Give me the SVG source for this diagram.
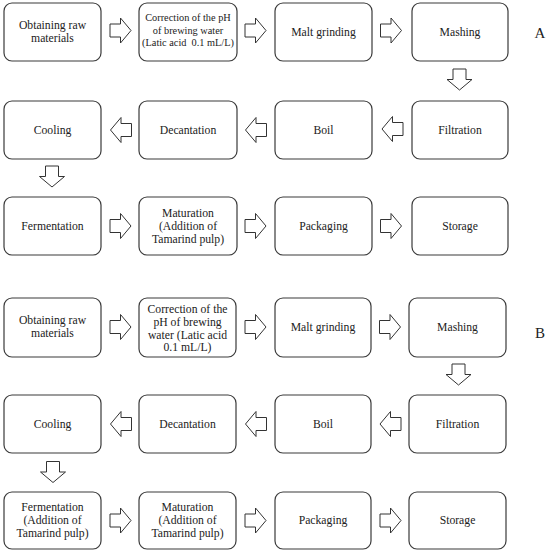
<svg xmlns="http://www.w3.org/2000/svg" xmlns:xlink="http://www.w3.org/1999/xlink" width="550" height="553" viewBox="0 0 550 553">
<style>
.box{fill:#fff;stroke:#3a3a3a;stroke-width:1.2}
.t{font-family:"Liberation Serif","Times New Roman",serif;font-size:11.7px;fill:#222;text-anchor:middle}
.s{font-size:10.3px}
.lbl{font-family:"Liberation Serif","Times New Roman",serif;font-size:15px;fill:#222;text-anchor:middle}
.arr{fill:#fff;stroke:#333;stroke-width:1}
</style>
<defs>
<path id="ar" class="arr" d="M-10.5,-6.5 H0 V-12.5 L10.5,0 L0,12.5 V6.5 H-10.5 Z"/>
</defs>
<rect width="550" height="553" fill="#fff"/>
<g id="partA">
<g id="a1"><rect class="box" x="4" y="3" width="97" height="58" rx="8"/><text class="t" x="52.5" y="29">Obtaining raw</text><text class="t" x="52.5" y="42">materials</text></g>
<g id="a2"><rect class="box" x="139" y="3" width="98" height="58" rx="8"/><text class="t s" x="188" y="21">Correction of the pH</text><text class="t s" x="188" y="33.5">of brewing water</text><text class="t s" x="188" y="46">(Latic acid&#160; 0.1 mL/L)</text></g>
<g id="a3"><rect class="box" x="275" y="3" width="97" height="58" rx="8"/><text class="t" x="323.5" y="36">Malt grinding</text></g>
<g id="a4"><rect class="box" x="412" y="3" width="96" height="58" rx="8"/><text class="t" x="460" y="36">Mashing</text></g>
<g id="a5"><rect class="box" x="412" y="101" width="96" height="58" rx="8"/><text class="t" x="460" y="134">Filtration</text></g>
<g id="a6"><rect class="box" x="275" y="101" width="97" height="58" rx="8"/><text class="t" x="323.5" y="134">Boil</text></g>
<g id="a7"><rect class="box" x="139" y="101" width="98" height="58" rx="8"/><text class="t" x="188" y="134">Decantation</text></g>
<g id="a8"><rect class="box" x="4" y="101" width="97" height="58" rx="8"/><text class="t" x="52.5" y="134">Cooling</text></g>
<g id="a9"><rect class="box" x="4" y="197" width="97" height="58" rx="8"/><text class="t" x="52.5" y="230">Fermentation</text></g>
<g id="a10"><rect class="box" x="139" y="197" width="98" height="58" rx="8"/><text class="t" x="188" y="217">Maturation</text><text class="t" x="188" y="230">(Addition of</text><text class="t" x="188" y="243">Tamarind pulp)</text></g>
<g id="a11"><rect class="box" x="275" y="197" width="97" height="58" rx="8"/><text class="t" x="323.5" y="230">Packaging</text></g>
<g id="a12"><rect class="box" x="412" y="197" width="96" height="58" rx="8"/><text class="t" x="460" y="230">Storage</text></g>
<text class="lbl" x="540" y="38">A</text>
</g>
<g id="partB">
<g id="b1"><rect class="box" x="4" y="298" width="97" height="59" rx="8"/><text class="t" x="52.5" y="324">Obtaining raw</text><text class="t" x="52.5" y="337">materials</text></g>
<g id="b2"><rect class="box" x="139" y="298" width="97" height="59" rx="8"/><text class="t" x="187.5" y="313">Correction of the</text><text class="t" x="187.5" y="326">pH of brewing</text><text class="t" x="187.5" y="339">water (Latic acid</text><text class="t" x="187.5" y="351">0.1 mL/L)</text></g>
<g id="b3"><rect class="box" x="275" y="298" width="96" height="59" rx="8"/><text class="t" x="323" y="331">Malt grinding</text></g>
<g id="b4"><rect class="box" x="409" y="298" width="97" height="59" rx="8"/><text class="t" x="457.5" y="331">Mashing</text></g>
<g id="b5"><rect class="box" x="409" y="395" width="97" height="58" rx="8"/><text class="t" x="457.5" y="428">Filtration</text></g>
<g id="b6"><rect class="box" x="275" y="395" width="96" height="58" rx="8"/><text class="t" x="323" y="428">Boil</text></g>
<g id="b7"><rect class="box" x="139" y="395" width="97" height="58" rx="8"/><text class="t" x="187.5" y="428">Decantation</text></g>
<g id="b8"><rect class="box" x="4" y="395" width="97" height="58" rx="8"/><text class="t" x="52.5" y="428">Cooling</text></g>
<g id="b9"><rect class="box" x="4" y="492" width="97" height="57" rx="8"/><text class="t" x="52.5" y="511">Fermentation</text><text class="t" x="52.5" y="524">(Addition of</text><text class="t" x="52.5" y="537">Tamarind pulp)</text></g>
<g id="b10"><rect class="box" x="139" y="492" width="97" height="57" rx="8"/><text class="t" x="187.5" y="511">Maturation</text><text class="t" x="187.5" y="524">(Addition of</text><text class="t" x="187.5" y="537">Tamarind pulp)</text></g>
<g id="b11"><rect class="box" x="275" y="492" width="96" height="57" rx="8"/><text class="t" x="323" y="524">Packaging</text></g>
<g id="b12"><rect class="box" x="409" y="492" width="97" height="57" rx="8"/><text class="t" x="457.5" y="524">Storage</text></g>
<text class="lbl" x="540" y="338">B</text>
</g>
<g id="connectors">
<use xlink:href="#ar" transform="translate(120.5,30.5)"/>
<use xlink:href="#ar" transform="translate(255.5,30.5)"/>
<use xlink:href="#ar" transform="translate(391,30.5)"/>
<use xlink:href="#ar" transform="translate(459.5,79.5) rotate(90)"/>
<use xlink:href="#ar" transform="translate(392.5,129) rotate(180)"/>
<use xlink:href="#ar" transform="translate(256,130) rotate(180)"/>
<use xlink:href="#ar" transform="translate(121,130) rotate(180)"/>
<use xlink:href="#ar" transform="translate(52,176.5) rotate(90)"/>
<use xlink:href="#ar" transform="translate(120.5,226)"/>
<use xlink:href="#ar" transform="translate(255.5,226)"/>
<use xlink:href="#ar" transform="translate(391,226)"/>
<use xlink:href="#ar" transform="translate(120.5,327)"/>
<use xlink:href="#ar" transform="translate(255.5,327)"/>
<use xlink:href="#ar" transform="translate(390,327)"/>
<use xlink:href="#ar" transform="translate(458.5,374.5) rotate(90)"/>
<use xlink:href="#ar" transform="translate(390.5,424) rotate(180)"/>
<use xlink:href="#ar" transform="translate(256,424) rotate(180)"/>
<use xlink:href="#ar" transform="translate(121,424) rotate(180)"/>
<use xlink:href="#ar" transform="translate(53,472) rotate(90)"/>
<use xlink:href="#ar" transform="translate(120.5,520.5)"/>
<use xlink:href="#ar" transform="translate(255.5,520.5)"/>
<use xlink:href="#ar" transform="translate(390.5,520.5)"/>
</g>
</svg>
